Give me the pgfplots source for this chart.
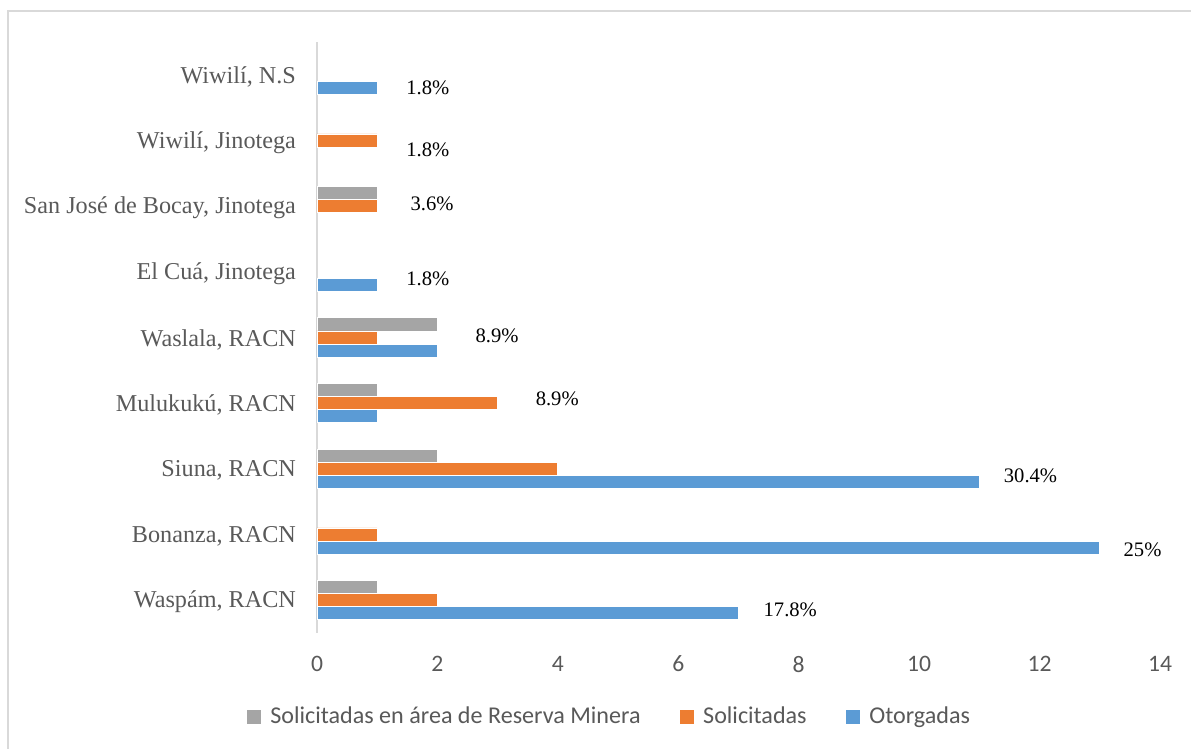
\documentclass[border=0pt]{standalone}
\usepackage{fontspec}
\setmainfont{Liberation Serif}
\newfontfamily\calibri{Carlito}
\usepackage{pgfplots}
\pgfplotsset{compat=1.18}
\definecolor{cblue}{HTML}{5B9BD5}
\definecolor{corange}{HTML}{ED7D31}
\definecolor{cgray}{HTML}{A5A5A5}
\definecolor{txtgray}{HTML}{595959}
\definecolor{linegray}{HTML}{D9D9D9}
\begin{document}
\begin{tikzpicture}
\useasboundingbox (0,0) rectangle (595.5pt,374.5pt);
\draw[linegray, line width=0.8pt] (4pt,0) -- (4pt,369pt) -- (595.5pt,369pt);
\begin{axis}[
  at={(158.5pt,58pt)}, anchor=south west,
  scale only axis, width=421.5pt, height=295.5pt,
  xbar, bar width=0.2,
  xmin=0, xmax=14, ymin=-0.5, ymax=8.5,
  xtick={0,2,...,14}, ytick={0,...,8},
  yticklabels={{Waspám, RACN},{Bonanza, RACN},{Siuna, RACN},{Mulukukú, RACN},{Waslala, RACN},{El Cuá, Jinotega},{San José de Bocay, Jinotega},{Wiwilí, Jinotega},{Wiwilí, N.S}},
  axis lines*=left,
  x axis line style={draw=none},
  y axis line style={draw=linegray, line width=1pt},
  tick style={draw=none},
  major tick length=0pt,
  xticklabel style={font=\calibri\fontsize{11.8pt}{14pt}\selectfont, text=txtgray, yshift=-8pt},
  yticklabel style={font=\fontsize{12.1pt}{14pt}\selectfont, text=txtgray, xshift=-7pt, yshift=-1pt},
  /pgf/number format/assume math mode=true,
  legend style={at={(0.3480,-0.1421)}, anchor=center, draw=none, legend columns=3,
    font=\calibri\fontsize{12.05pt}{14pt}\selectfont, text=txtgray,
    /tikz/every even column/.append style={column sep=17.5pt}},
  legend image code/.code={\path[#1,draw=none] (0pt,-3.65pt) rectangle (7.3pt,3.65pt); \path[draw=none,fill=none] (0pt,0pt) -- (9.8pt,0pt);},
  every axis plot/.append style={draw=white, line width=0.4pt},
  clip=false,
]
\addplot[fill=cgray, bar shift=0.2] coordinates {(1,0) (2,2) (1,3) (2,4) (1,6)};
\addplot[fill=corange, bar shift=0] coordinates {(2,0) (1,1) (4,2) (3,3) (1,4) (1,6) (1,7)};
\addplot[fill=cblue, bar shift=-0.2] coordinates {(7,0) (13,1) (11,2) (1,3) (2,4) (1,5) (1,8)};
\legend{Solicitadas en área de Reserva Minera, Solicitadas, Otorgadas}
\begin{scope}[every node/.style={font=\fontsize{10.3pt}{12pt}\selectfont, text=black}]
\node at (axis cs:7.86,-0.15) {17.8\%};
\node at (axis cs:13.71,0.76) {25\%};
\node at (axis cs:11.85,1.90) {30.4\%};
\node at (axis cs:3.99,3.07) {8.9\%};
\node at (axis cs:2.99,4.02) {8.9\%};
\node at (axis cs:1.84,4.89) {1.8\%};
\node at (axis cs:1.91,6.03) {3.6\%};
\node at (axis cs:1.84,6.86) {1.8\%};
\node at (axis cs:1.84,7.81) {1.8\%};
\end{scope}
\end{axis}
\end{tikzpicture}
\end{document}
